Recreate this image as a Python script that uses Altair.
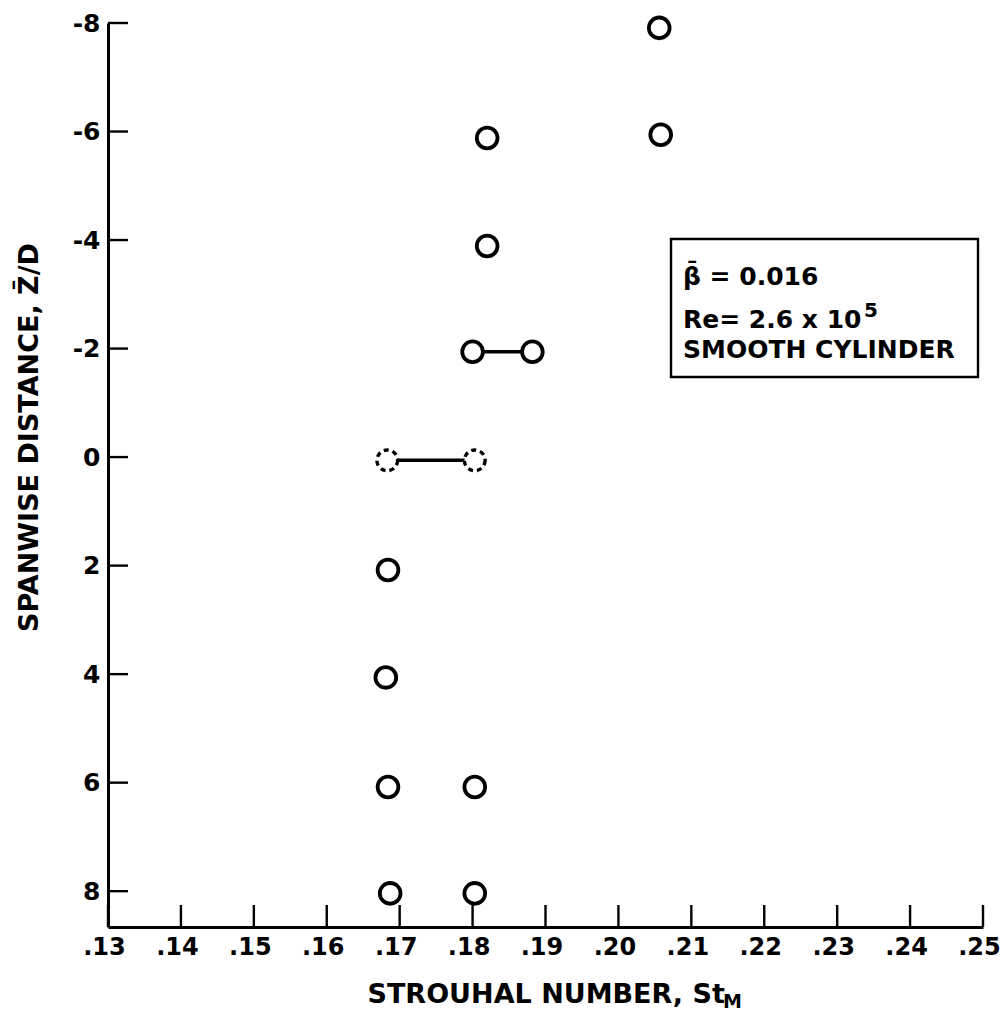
import altair as alt
import pandas as pd

# ---- data ----
solid_x = [0.2056, 0.2058, 0.1820, 0.1820, 0.1800, 0.1882, 0.1684, 0.1681, 0.1684, 0.1803, 0.1687, 0.1803]
solid_y = [-7.91, -5.94, -5.88, -3.89, -1.94, -1.94, 2.08, 4.06, 6.08, 6.08, 8.04, 8.04]

dashed_x = [0.1683, 0.1803]
dashed_y = [0.06, 0.06]

pair_x1 = [0.1800, 0.1683]
pair_x2 = [0.1882, 0.1803]
pair_y = [-1.94, 0.06]

x_ticks = [0.13, 0.14, 0.15, 0.16, 0.17, 0.18, 0.19, 0.20, 0.21, 0.22, 0.23, 0.24, 0.25]
y_ticks = [-8, -6, -4, -2, 0, 2, 4, 6, 8]

legend_lines = ["\u03b2\u0304 = 0.016", "Re= 2.6 x 10", "SMOOTH CYLINDER"]

W, H = 875, 904
FONT = "DejaVu Sans"
WEIGHT = "bold"

solid = pd.DataFrame({"x": solid_x, "y": solid_y})
dashed = pd.DataFrame({"x": dashed_x, "y": dashed_y})
pairs = pd.DataFrame({"x1": pair_x1, "x2": pair_x2, "y": pair_y})
xt = pd.DataFrame({"x": x_ticks})
yt = pd.DataFrame({"y": y_ticks})
one = pd.DataFrame({"k": [0]})

xscale = alt.Scale(domain=[0.13, 0.25], nice=False, zero=False)
yscale = alt.Scale(domain=[-8, 8.66], nice=False, zero=False, reverse=True)

xaxis = alt.Axis(
    values=x_ticks,
    labelExpr="replace(format(datum.value, '.2f'), '0.', '.')",
    labelFlush=False,
    labelFontSize=24,
    labelOffset=-4,
    title="STROUHAL NUMBER, St",
    titleX=259, titleY=75, titleAlign="left", titleBaseline="alphabetic",
    labelPadding=8,
)
yaxis = alt.Axis(
    values=y_ticks,
    labelExpr="datum.value < 0 ? '-' + format(-datum.value, 'd') : format(datum.value, 'd')",
    labelFlush=False,
    title="SPANWISE DISTANCE, Z\u0304/D",
    titleAngle=270, titleX=-79, titleY=414, titleAlign="center", titleBaseline="middle",
    labelPadding=8,
)

base_x = alt.X("x:Q", scale=xscale, axis=xaxis)
base_y = alt.Y("y:Q", scale=yscale, axis=yaxis)

xtick_layer = alt.Chart(xt).mark_rule(color="black", strokeWidth=2.4).encode(
    x=alt.X("x:Q", scale=xscale, axis=xaxis),
    y=alt.value(H - 22), y2=alt.value(H),
)
ytick_layer = alt.Chart(yt).mark_rule(color="black", strokeWidth=2.4).encode(
    y=alt.Y("y:Q", scale=yscale, axis=yaxis),
    x=alt.value(0), x2=alt.value(20),
)

pair_layer = alt.Chart(pairs).mark_rule(color="black", strokeWidth=3.5).encode(
    x=alt.X("x1:Q", scale=xscale, axis=xaxis), x2="x2:Q",
    y=alt.Y("y:Q", scale=yscale, axis=yaxis),
)

solid_layer = alt.Chart(solid).mark_point(
    shape="circle", filled=False, fill="white", fillOpacity=1, stroke="black",
    strokeWidth=3.8, size=430, opacity=1,
).encode(x=base_x, y=base_y)

dashed_layer = alt.Chart(dashed).mark_point(
    shape="circle", filled=False, fill="white", fillOpacity=1, stroke="black",
    strokeWidth=3.4, size=430, opacity=1, strokeDash=[5, 4],
).encode(x=base_x, y=base_y)

box = alt.Chart(one).mark_rect(fill="white", stroke="black", strokeWidth=2.4).encode(
    x=alt.value(563), x2=alt.value(870), y=alt.value(216), y2=alt.value(354),
)

legend_df = pd.DataFrame({"t": legend_lines, "yy": [262, 305, 335]})
legend_text = alt.Chart(legend_df).mark_text(
    align="left", baseline="alphabetic", font=FONT, fontSize=25, fontWeight=WEIGHT, color="black",
).encode(text="t:N", x=alt.value(575), y=alt.Y("yy:Q", scale=None))

sup = alt.Chart(one).mark_text(
    align="left", baseline="alphabetic", font=FONT, fontSize=20, fontWeight=WEIGHT, color="black",
).encode(text=alt.value("5"), x=alt.value(756), y=alt.value(294))

sub = alt.Chart(one).mark_text(
    align="left", baseline="alphabetic", font=FONT, fontSize=19, fontWeight=WEIGHT, color="black",
).encode(text=alt.value("M"), x=alt.value(615), y=alt.value(985))

chart = alt.layer(
    xtick_layer, ytick_layer, pair_layer, solid_layer, dashed_layer, box, legend_text, sup, sub
).properties(
    width=W, height=H,
    padding={"left": 108, "top": 23, "right": 21, "bottom": 88},
    autosize=alt.AutoSizeParams(type="none"),
    background="white",
).configure_view(strokeWidth=0).configure_axis(
    grid=False, ticks=False, tickSize=0,
    domainColor="black", domainWidth=3,
    labelFont=FONT, labelFontSize=25, labelFontWeight=WEIGHT, labelColor="black",
    titleFont=FONT, titleFontSize=27, titleFontWeight=WEIGHT, titleColor="black",
)

chart.save("out.html", embed_options={"renderer": "svg", "actions": False})
